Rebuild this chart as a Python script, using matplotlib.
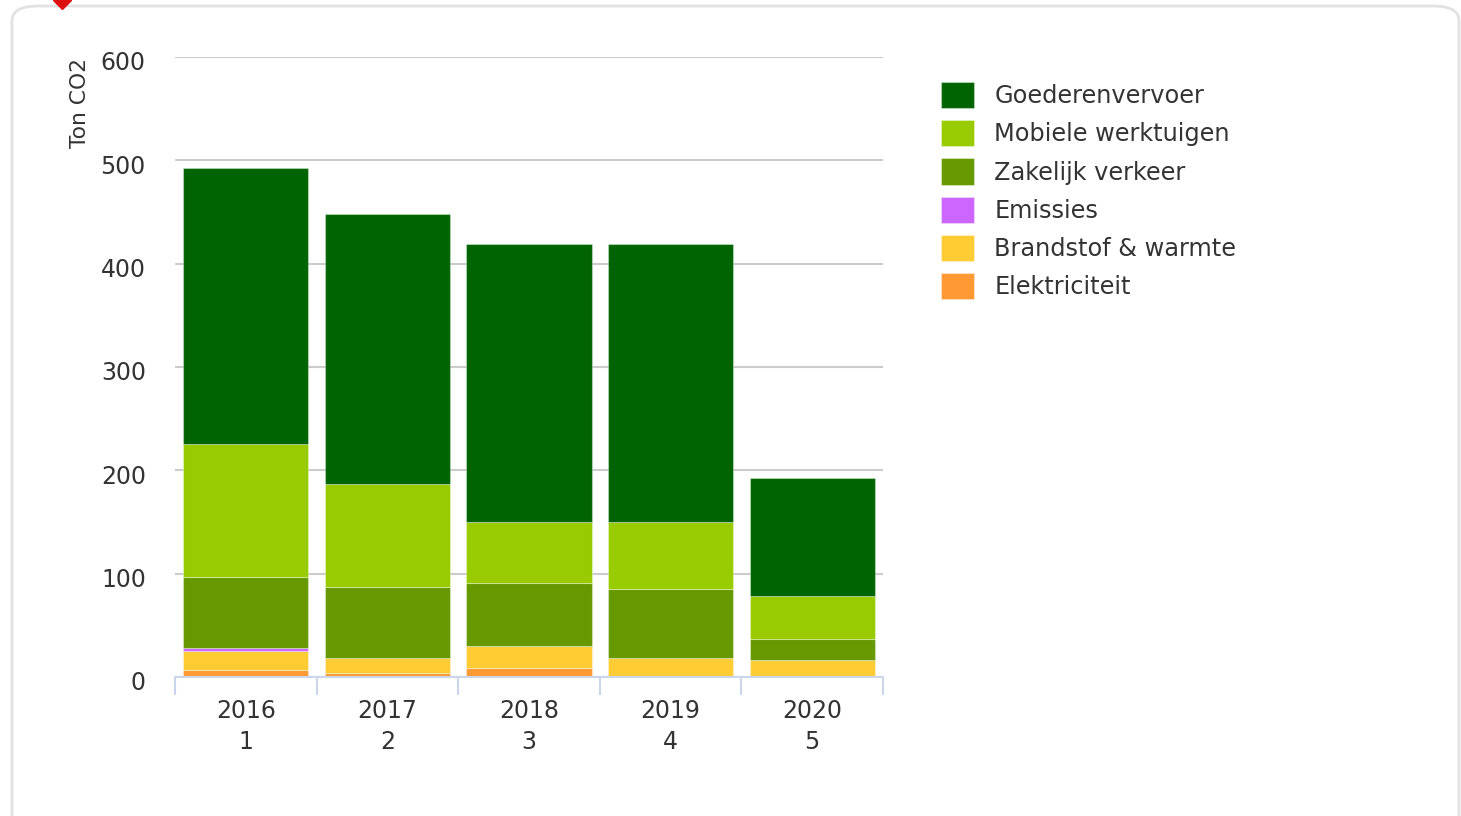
import numpy as np
import matplotlib
matplotlib.use("Agg")
import matplotlib.pyplot as plt
from matplotlib.patches import FancyBboxPatch
from matplotlib.lines import Line2D
import matplotlib.transforms as mtransforms

# Gegevens (ton CO2), van onder naar boven gestapeld
jaren = ["2016", "2017", "2018", "2019", "2020"]
nummers = ["1", "2", "3", "4", "5"]
elektriciteit = [6.5, 4.2, 8.4, 0.8, 0.3]
brandstof = [19.0, 14.2, 21.6, 17.6, 16.2]
emissies = [2.1, 0.0, 0.0, 0.0, 0.0]
zakelijk = [69.2, 69.0, 61.3, 67.1, 20.5]
mobiele = [128.7, 99.4, 58.7, 64.5, 41.7]
goederen = [267.0, 261.2, 269.0, 269.0, 114.0]

series = [
    ("Elektriciteit", elektriciteit, "#ff9933"),
    ("Brandstof & warmte", brandstof, "#ffcc33"),
    ("Emissies", emissies, "#cc66ff"),
    ("Zakelijk verkeer", zakelijk, "#669900"),
    ("Mobiele werktuigen", mobiele, "#99cc00"),
    ("Goederenvervoer", goederen, "#006400"),
]

W, H = 1461, 816
plt.rcParams['font.family'] = ['DejaVu Sans']
fig = plt.figure(figsize=(W / 100, H / 100), dpi=100)

# kaart-rand
kaart = FancyBboxPatch((12 / W, -20 / H), 1447 / W, 830 / H,
                       boxstyle="round,pad=0,rounding_size=0.018",
                       transform=fig.transFigure, facecolor="white",
                       edgecolor="#e2e2e2", linewidth=2, zorder=-5)
fig.patches.append(kaart)
fig.add_artist(Line2D([62 / W], [1.0], marker="D", color="#dd1111",
                      markersize=9, transform=fig.transFigure))

ax = fig.add_axes([175 / W, (H - 677) / H, (883 - 175) / W, (677 - 57) / H])
ax.set_zorder(2)
ax.patch.set_alpha(0)

x = np.arange(len(jaren))
bottom = np.zeros(len(jaren))
handles = {}
for naam, waarden, kleur in series:
    b = ax.bar(x, waarden, width=0.885, bottom=bottom, color=kleur,
               edgecolor=(1, 1, 1, 0.35), linewidth=0.8, zorder=3)
    handles[naam] = b
    bottom += np.array(waarden)

ax.set_xlim(-0.5, 4.5)
ax.set_ylim(0, 600)
ax.set_yticks(np.arange(0, 601, 100))
ax.grid(axis="y", color="#cccccc", linewidth=1.5, zorder=0)
for s in ["top", "right", "left"]:
    ax.spines[s].set_visible(False)
ax.spines["bottom"].set_color("#ccd6eb")
ax.spines["bottom"].set_linewidth(1.5)
ax.spines["bottom"].set_zorder(4)

ax.tick_params(axis="y", length=0, pad=21, labelsize=17, labelcolor="#333333")
ax.set_xticks(x)
ax.set_xticklabels([f"{j}\n{n}" for j, n in zip(jaren, nummers)], linespacing=1.38)
ax.tick_params(axis="x", which="major", length=0, pad=15.5, labelsize=17,
               labelcolor="#333333")
ax.set_xticks(np.arange(-0.5, 5, 1), minor=True)
ax.tick_params(axis="x", which="minor", length=13, width=1.5, color="#ccd6eb")

verschuiving = mtransforms.ScaledTranslation(0, -4 / 100, fig.dpi_scale_trans)
for lbl in ax.get_yticklabels():
    lbl.set_transform(lbl.get_transform() + verschuiving)

fig.text(80 / W, (H - 58) / H, "Ton CO2", rotation=90, ha="center", va="top",
         fontsize=15.7, color="#333333")

volgorde = ["Goederenvervoer", "Mobiele werktuigen", "Zakelijk verkeer",
            "Emissies", "Brandstof & warmte", "Elektriciteit"]
leg = fig.legend([handles[n] for n in volgorde], volgorde,
                 loc="upper left", bbox_to_anchor=(941 / W, (H - 82) / H),
                 frameon=False, fontsize=17.3, handlelength=1.37,
                 handleheight=1.3, handletextpad=0.85, labelspacing=0.5,
                 borderaxespad=0, borderpad=0)
for t in leg.get_texts():
    t.set_color("#333333")

fig.savefig("out.png", dpi=100)
